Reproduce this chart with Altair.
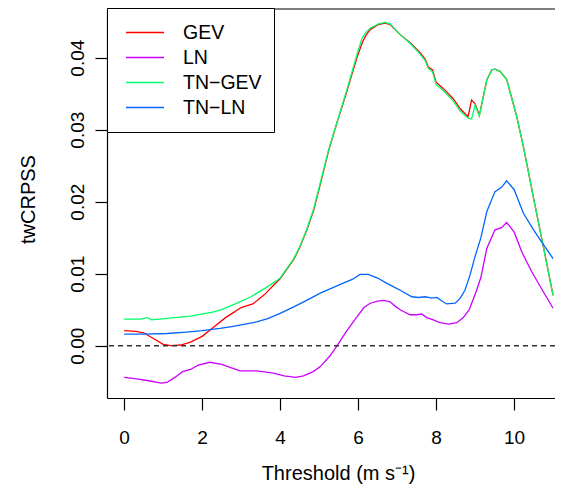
import altair as alt
import pandas as pd

# ---- data ----
models = ["GEV", "LN", "TN−GEV", "TN−LN"]
colors = ["#FF0000", "#CC00FF", "#00FF66", "#0066FF"]

gev_x = [0, 0.3, 0.5, 0.75, 1.0, 1.2, 1.45, 1.7, 2.0, 2.3, 2.6, 2.8, 3.0, 3.3, 3.6,
         3.85, 4.0, 4.17, 4.35, 4.5, 4.68, 4.86, 5.03, 5.24, 5.45, 5.71, 5.97, 6.1, 6.2,
         6.31, 6.52, 6.69, 6.82, 7.08, 7.33, 7.59, 7.72, 7.8, 7.91, 8.0, 8.19, 8.44,
         8.62, 8.82, 8.91, 9.0, 9.11, 9.3, 9.43, 9.51, 9.64, 9.81, 10.07, 10.24, 10.41,
         10.5, 10.75, 11.0]
gev_y = [0.0021, 0.0020, 0.0018, 0.0010, 0.0002, 0.0000, 0.0001, 0.0005, 0.0013, 0.0026,
         0.0039, 0.0046, 0.0053, 0.0058, 0.0071, 0.0085, 0.0093, 0.0106, 0.0120, 0.0136,
         0.0160, 0.0188, 0.0224, 0.0270, 0.0308, 0.0353, 0.0400, 0.0420, 0.0431, 0.0439,
         0.0446, 0.0448, 0.0446, 0.0432, 0.0421, 0.0407, 0.0398, 0.0387, 0.0383, 0.0366,
         0.0357, 0.0343, 0.0329, 0.0318, 0.0341, 0.0336, 0.0320, 0.0369, 0.0383, 0.0384,
         0.0381, 0.0370, 0.0318, 0.0276, 0.0230, 0.0205, 0.0138, 0.0070]

ln_x = [0, 0.32, 0.67, 0.95, 1.1, 1.3, 1.5, 1.7, 1.9, 2.2, 2.5, 2.97, 3.4, 3.83, 4.1,
        4.4, 4.6, 4.85, 5.03, 5.28, 5.45, 5.7, 5.97, 6.15, 6.31, 6.5, 6.65, 6.82, 6.95,
        7.08, 7.33, 7.5, 7.63, 7.76, 7.93, 8.1, 8.32, 8.53, 8.7, 8.85, 9.04, 9.15, 9.3,
        9.51, 9.68, 9.81, 10.0, 10.2, 10.45, 10.75, 11.0]
ln_y = [-0.0044, -0.0046, -0.0049, -0.0052, -0.0051, -0.0044, -0.0036, -0.0033, -0.0027,
        -0.0023, -0.0026, -0.0035, -0.0035, -0.0038, -0.0042, -0.0044, -0.0042, -0.0036,
        -0.0029, -0.0014, -0.0001, 0.0020, 0.0040, 0.0053, 0.0059, 0.0062, 0.0063, 0.0061,
        0.0055, 0.0050, 0.0043, 0.0043, 0.0044, 0.0039, 0.0036, 0.0032, 0.0030, 0.0032,
        0.0039, 0.0050, 0.0077, 0.0095, 0.0135, 0.0161, 0.0164, 0.0171, 0.0158, 0.0130,
        0.0103, 0.0075, 0.0052]

tngev_x = [0, 0.4, 0.6, 0.7, 1.1, 1.7, 2.3, 2.5, 2.85, 3.25, 3.65, 3.9, 4.0, 4.17, 4.35,
           4.5, 4.68, 4.86, 5.03, 5.24, 5.45, 5.71, 5.97, 6.1, 6.2, 6.31, 6.52, 6.69, 6.82,
           7.08, 7.33, 7.59, 7.72, 7.8, 7.91, 8.0, 8.19, 8.44, 8.62, 8.82, 8.91, 9.0, 9.11,
           9.3, 9.43, 9.51, 9.64, 9.81, 10.07, 10.24, 10.41, 10.5, 10.75, 11.0]
tngev_y = [0.0037, 0.0037, 0.0039, 0.0036, 0.0038, 0.0041, 0.0047, 0.0050, 0.0058, 0.0068,
           0.0081, 0.0090, 0.0094, 0.0107, 0.0121, 0.0137, 0.0161, 0.0190, 0.0226, 0.0271,
           0.0309, 0.0355, 0.0404, 0.0427, 0.0435, 0.0441, 0.0447, 0.0449, 0.0447, 0.0432,
           0.0420, 0.0405, 0.0396, 0.0385, 0.0380, 0.0363, 0.0354, 0.0340, 0.0326, 0.0316,
           0.0315, 0.0334, 0.0319, 0.0369, 0.0383, 0.0384, 0.0381, 0.0370, 0.0318, 0.0276,
           0.0230, 0.0205, 0.0138, 0.0070]

tnln_x = [0, 0.5, 1.1, 1.6, 2.0, 2.46, 2.8, 3.1, 3.4, 3.7, 4.0, 4.35, 4.68, 5.03, 5.28,
          5.62, 5.85, 6.05, 6.26, 6.5, 6.73, 6.9, 7.08, 7.38, 7.55, 7.72, 7.89, 8.02, 8.15,
          8.27, 8.49, 8.62, 8.74, 8.87, 9.0, 9.15, 9.3, 9.51, 9.68, 9.81, 10.0, 10.24,
          10.5, 10.71, 11.0]
tnln_y = [0.0016, 0.0016, 0.0017, 0.0019, 0.0021, 0.0024, 0.0027, 0.0030, 0.0033, 0.0038,
          0.0045, 0.0054, 0.0063, 0.0073, 0.0079, 0.0087, 0.0092, 0.0099, 0.0099, 0.0094,
          0.0087, 0.0082, 0.0077, 0.0068, 0.0067, 0.0068, 0.0066, 0.0067, 0.0062, 0.0058,
          0.0059, 0.0066, 0.0077, 0.0098, 0.0124, 0.0150, 0.0186, 0.0214, 0.0220, 0.0229,
          0.0217, 0.0184, 0.0161, 0.0144, 0.0121]

x_ticks = [0, 2, 4, 6, 8, 10]
y_ticks = [0.0, 0.01, 0.02, 0.03, 0.04]
zero_level = [0.0]

series = [(models[0], gev_x, gev_y), (models[1], ln_x, ln_y),
          (models[2], tngev_x, tngev_y), (models[3], tnln_x, tnln_y)]
records = []
for name, xs, ys in series:
    for xv, yv in zip(xs, ys):
        records.append({"model": name, "threshold": xv, "twcrpss": yv})
df = pd.DataFrame(records)

FONT = "Liberation Sans"
W, H = 448, 389

x_enc = alt.X(
    "threshold:Q",
    scale=alt.Scale(domain=[-0.44, 11.05], nice=False, zero=False),
    axis=alt.Axis(values=x_ticks, title="Threshold (m s⁻¹)", format="d",
                  tickSize=12, labelPadding=18, labelFontSize=19,
                  titleFontSize=20, titleX=231, titleY=81,
                  titleAlign="center", titleBaseline="alphabetic"),
)
y_enc = alt.Y(
    "twcrpss:Q",
    scale=alt.Scale(domain=[-0.00726, 0.04676], nice=False, zero=False),
    axis=alt.Axis(values=y_ticks, format=".2f", title="twCRPSS",
                  tickSize=12, labelPadding=12, labelFontSize=19,
                  labelAngle=270, labelAlign="center", labelBaseline="alphabetic",
                  labelOverlap=False,
                  titleFontSize=20, titleAngle=270, titleX=-73, titleY=190,
                  titleAlign="center", titleBaseline="alphabetic"),
)

lines = alt.Chart(df).mark_line(strokeWidth=1.3).encode(
    x=x_enc,
    y=y_enc,
    color=alt.Color(
        "model:N",
        scale=alt.Scale(domain=models, range=colors),
        legend=alt.Legend(
            orient="none", legendX=0, legendY=-1, title=None,
            symbolType="stroke", symbolSize=1444, symbolStrokeWidth=1.5,
            symbolOffset=6, labelOffset=18, clipHeight=25, rowPadding=0,
            padding=12, strokeColor="black", fillColor="white",
            labelFontSize=19.5, labelFont=FONT, labelColor="black", labelLimit=300,
        ),
    ),
)

zero_df = pd.DataFrame({"level": zero_level})
zero_rule = alt.Chart(zero_df).mark_rule(
    color="#333333", strokeWidth=1.4, strokeDash=[5, 4]
).encode(y="level:Q")

top_border = alt.Chart(zero_df).mark_rule(color="black", strokeWidth=1.2).encode(
    y=alt.value(0)
)

chart = alt.layer(lines, zero_rule, top_border).properties(
    width=W, height=H,
    padding={"left": 99, "top": 1, "right": 0, "bottom": 86},
    autosize=alt.AutoSizeParams(type="none"),
).configure_view(stroke=None).configure_axis(
    grid=False, domainColor="black", domainWidth=1.2, tickColor="black",
    tickWidth=1.2, labelColor="black", titleColor="black", labelFont=FONT,
    titleFont=FONT, titleFontWeight="normal",
)

chart.save("out.html", embed_options={"renderer": "svg", "actions": False})
